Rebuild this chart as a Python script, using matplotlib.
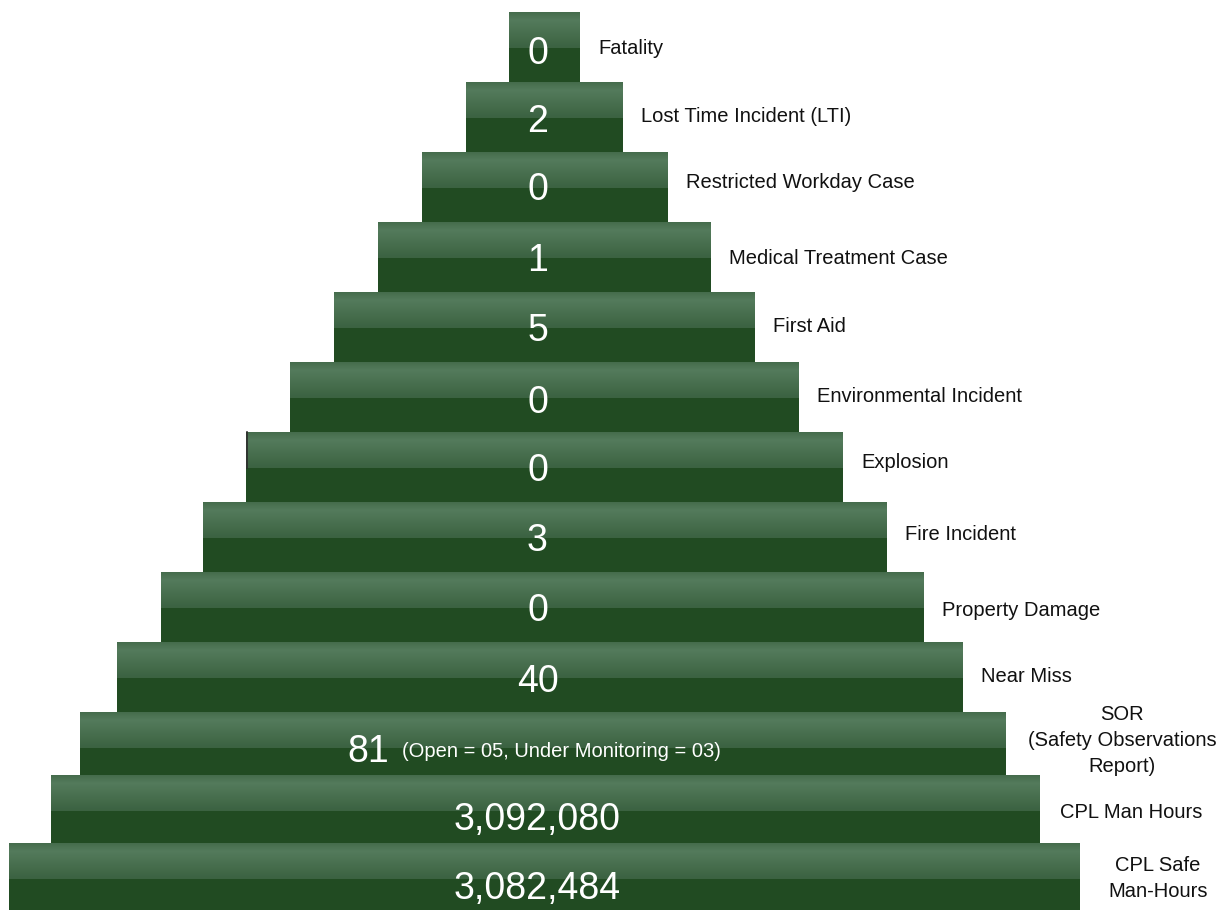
import numpy as np
import matplotlib
matplotlib.use("Agg")
import matplotlib.pyplot as plt
from matplotlib.colors import LinearSegmentedColormap

plt.rcParams["font.family"] = ["Liberation Sans", "DejaVu Sans"]

# HSE statistics, top of the pyramid first
categories = ["Fatality", "Lost Time Incident (LTI)", "Restricted Workday Case",
              "Medical Treatment Case", "First Aid", "Environmental Incident",
              "Explosion", "Fire Incident", "Property Damage", "Near Miss",
              "SOR\n(Safety Observations\nReport)", "CPL Man Hours",
              "CPL Safe\nMan-Hours"]
values = [0, 2, 0, 1, 5, 0, 0, 3, 0, 40, 81, 3092080, 3082484]
sor_note = "(Open = 05, Under Monitoring = 03)"

# pyramid layout (pixels)
W, H = 1219, 910
bar_lefts = [509, 466, 422, 378, 334, 290, 246, 203, 161, 117, 80, 51, 9]
bar_rights = [580, 623, 668, 711, 755, 799, 843, 887, 924, 963, 1006, 1040, 1080]
bar_tops = [12, 82, 152, 222, 292, 362, 432, 502, 572, 642, 712, 775, 843]
bar_heights = [70, 70, 70, 70, 70, 70, 70, 70, 70, 70, 63, 68, 67]
num_dy = [3, 1, -1, 0, 0, 2, 0, 0, 0, 1, 4, 7, 9]
label_dy = [1, -1, -4, 1, -1, -1, -4, -2, 4, 0, -3, 4, 2]
shine_h = 36

dark = "#214b22"
shine = LinearSegmentedColormap.from_list(
    "shine", [(0.0, "#456c4c"), (0.22, "#547b5c"), (1.0, "#3b6241")])
grad = np.linspace(0, 1, 64).reshape(-1, 1)

fig = plt.figure(figsize=(W / 100, H / 100), dpi=100)
ax = fig.add_axes([0, 0, 1, 1])
ax.set_xlim(0, W)
ax.set_ylim(H, 0)
ax.axis("off")

widths = [r - l for l, r in zip(bar_lefts, bar_rights)]
centers = [t + h / 2 for t, h in zip(bar_tops, bar_heights)]

ax.barh(centers, widths, left=bar_lefts, height=bar_heights,
        color=dark, edgecolor="none")
for l, r, t in zip(bar_lefts, bar_rights, bar_tops):
    ax.imshow(grad, cmap=shine, aspect="auto", interpolation="bilinear",
              extent=(l, r, t + shine_h, t), zorder=3)
# small dark edge on the Explosion bar
ax.plot([bar_lefts[6] + 0.5] * 2, [bar_tops[6], bar_tops[6] + shine_h],
        color="#2b2b2b", lw=1.2, zorder=4)

# values inside the bars
for i, v in enumerate(values):
    y = centers[i] + num_dy[i]
    if i == 10:
        ax.text(389, y, f"{v:,}", color="white", fontsize=27,
                ha="right", va="center_baseline", zorder=5)
        ax.text(402, y + 2, sor_note, color="white", fontsize=14.5,
                ha="left", va="center_baseline", zorder=5)
    else:
        ax.text(537.5, y, f"{v:,}", color="white", fontsize=27,
                ha="center", va="center_baseline", zorder=5)

# category names on the right
for i, name in enumerate(categories):
    y = centers[i] + label_dy[i]
    if i < 10:
        ax.text(bar_rights[i] + 18, y, name, fontsize=14.5,
                color="#111111", ha="left", va="center")
    else:
        xc = {10: 1122, 11: 1131, 12: 1158}[i]
        ax.text(xc, y, name, fontsize=14.5, color="#111111",
                ha="center", va="center", linespacing=1.5)

fig.savefig("out.png", dpi=100)
